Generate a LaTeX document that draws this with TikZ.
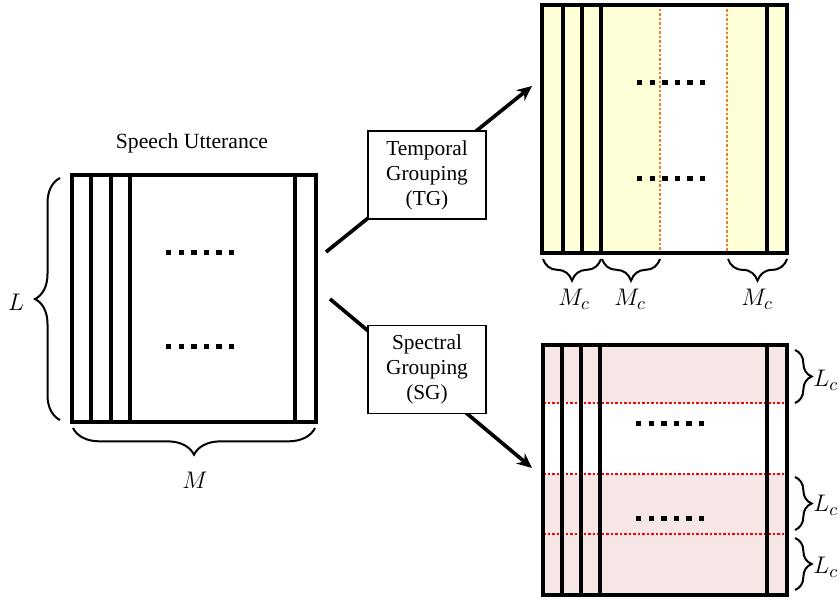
\documentclass[tikz,border=0pt]{standalone}
\usepackage{fontspec}
\setmainfont{Liberation Serif}
\usetikzlibrary{arrows.meta, decorations.pathreplacing}
\definecolor{tgfill}{HTML}{FFFFD7}
\definecolor{sgfill}{HTML}{F6E7E6}
\definecolor{tgline}{HTML}{ED7D31}
\definecolor{sgline}{HTML}{FF0000}

\begin{document}
\begin{tikzpicture}[x=0.6pt, y=-0.6pt,
    >=Stealth,
    frame/.style={line width=2.3pt},
    col/.style={line width=1.9pt},
    grp/.style={draw, fill=white, line width=0.8pt, minimum width=70.8pt,
      minimum height=52.8pt, align=center, inner sep=2pt,
      font=\fontsize{12.8}{15}\selectfont},
    flow/.style={-{Stealth[length=9pt, width=8pt]}, line width=2.2pt},
    brc/.style={decorate, decoration={brace, amplitude=#1}, line width=1.2pt},
    brc/.default=14pt,
    sym/.style={font=\fontsize{15}{18}\selectfont},
    cut/.style={dash pattern=on 1.5pt off 1.2pt, line width=1.4pt}]
  \useasboundingbox (0,0) rectangle (840,599);

  % input spectrogram
  \node[font=\fontsize{13}{15}\selectfont] (title) at (192,143) {Speech Utterance};
  \foreach \x in {91,111,130,295}
    \draw[col] (\x,175) -- (\x,422);
  \draw[frame] (72,175) rectangle (316,422);
  \draw[brc=15pt] (60,420) -- (60,178);
  \node[sym] (lenL) at (16,302) {$L$};
  \draw[brc=16pt] (315,428) -- (73,428);
  \node[sym] (lenM) at (195,480) {$M$};

  % temporal grouping output
  \fill[tgfill] (542,5) rectangle (660,253);
  \fill[tgfill] (727,5) rectangle (787,253);
  \draw[tgline, cut] (601,5) rectangle (660,253);
  \draw[tgline, cut] (727,5) rectangle (787,253);
  \foreach \x in {563,582,601,767}
    \draw[col] (\x,5) -- (\x,253);
  \draw[frame] (542,5) rectangle (787,253);
  \draw[brc=13pt] (601,259) -- (543,259);
  \draw[brc=13pt] (660,259) -- (602,259);
  \draw[brc=13pt] (787,259) -- (728,259);
  \node[sym] (mc1) at (574,299) {$M_c$};
  \node[sym] (mc2) at (630,299) {$M_c$};
  \node[sym] (mc3) at (757,299) {$M_c$};

  % spectral grouping output
  \fill[sgfill] (543,345) rectangle (787,595);
  \fill[white] (543,403) rectangle (787,474);
  \foreach \y in {403,474,534}
    \draw[sgline, cut] (543,\y) -- (787,\y);
  \foreach \x in {562,581,600,767}
    \draw[col] (\x,345) -- (\x,595);
  \draw[frame] (543,345) rectangle (787,595);
  \draw[brc=10pt] (795,350) -- (795,403);
  \draw[brc=10pt] (795,477) -- (795,530);
  \draw[brc=10pt] (795,538) -- (795,590);
  \node[sym, anchor=west, inner sep=0pt] (lc1) at (813,380) {$L_c$};
  \node[sym, anchor=west, inner sep=0pt] (lc2) at (813,505) {$L_c$};
  \node[sym, anchor=west, inner sep=0pt] (lc3) at (813,567) {$L_c$};

  % ellipsis marks
  \foreach \dx/\dy in {166/250, 166/344, 637/80, 637/176, 636/421, 636/516}
    \foreach \i in {0,...,5}
      \fill (\dx+12.6*\i,\dy) rectangle ++(5.4,5.4);

  % grouping branches
  \coordinate (tgfrom) at (326,252);
  \coordinate (tgto) at (532,86);
  \coordinate (sgfrom) at (330,299);
  \coordinate (sgto) at (532,468);
  \draw[flow] (tgfrom) -- (tgto);
  \draw[flow] (sgfrom) -- (sgto);
  \node[grp] (tg) at (427,175) {Temporal\\Grouping\\(TG)};
  \node[grp] (sg) at (427,369.5) {Spectral\\Grouping\\(SG)};
\end{tikzpicture}
\end{document}
